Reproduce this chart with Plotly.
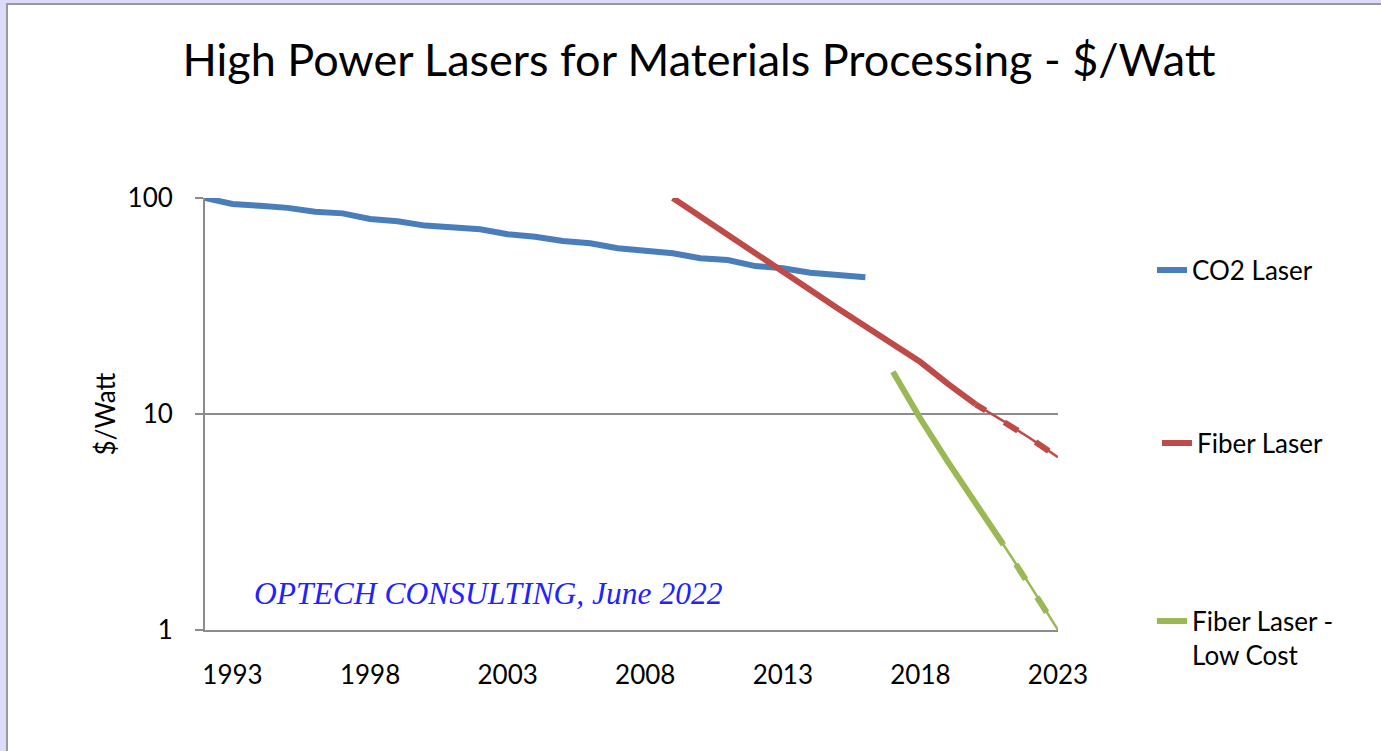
import plotly.graph_objects as go

# ---- data ----
co2_years = list(range(1992, 2017))
co2_values = [100, 93.8, 92, 90, 86.4, 84.9, 80, 78, 74.5, 73, 71.6, 67.9, 66.2,
              63.3, 61.7, 58.5, 57.4, 55.5, 52.6, 51.6, 48.4, 47.3, 45.1, 44, 43]

fiber_years = list(range(2009, 2024))
fiber_values = [100, 81.9, 67.4, 55, 45.6, 37.5, 30.8, 25.4, 21, 17.4, 13.8, 11.1, 9.3, 7.7, 6.3]
fiber_forecast_from = 2020

lowcost_years = list(range(2017, 2024))
lowcost_values = [15.7, 9.5, 6.0, 3.9, 2.5, 1.6, 1.0]
lowcost_forecast_from = 2021

x_tick_years = [1993, 1998, 2003, 2008, 2013, 2018, 2023]
y_tick_values = [1, 10, 100]
y_tick_labels = ["1", "10", "100"]

title_text = "High Power Lasers for Materials Processing - $/Watt"
y_title = "$/Watt"
note_text = "OPTECH CONSULTING, June 2022"
names = ["CO2 Laser", "Fiber Laser", "Fiber Laser -<br>Low Cost"]

# ---- style ----
BLUE = "#4A7EBB"
RED = "#BE4B48"
GREEN = "#98B954"
GRID = "#8C8C8C"
FONT = "Lato, 'Open Sans', sans-serif"

W, H = 1381, 751
ML, MR, MT, MB = 205, 323, 198, 121
PW, PH = W - ML - MR, H - MT - MB


def split(years, values, start):
    solid_x = [y for y in years if y <= start]
    solid_y = [v for y, v in zip(years, values) if y <= start]
    fc_x = [y for y in years if y >= start]
    fc_y = [v for y, v in zip(years, values) if y >= start]
    return solid_x, solid_y, fc_x, fc_y


fig = go.Figure()

# CO2
fig.add_trace(go.Scatter(x=co2_years, y=co2_values, mode="lines", name=names[0],
                         line=dict(color=BLUE, width=6), legend="legend"))

# Fiber laser
sx, sy, fx, fy = split(fiber_years, fiber_values, fiber_forecast_from)
fig.add_trace(go.Scatter(x=sx, y=sy, mode="lines", name=names[1],
                         line=dict(color=RED, width=6), legend="legend2"))
fig.add_trace(go.Scatter(x=fx, y=fy, mode="lines", showlegend=False, hoverinfo="skip",
                         line=dict(color=RED, width=2.5)))
fig.add_trace(go.Scatter(x=fx, y=fy, mode="lines", showlegend=False,
                         line=dict(color=RED, width=6, dash="12px,22px,16px,21px,16px,21px")))

# Fiber laser low cost
sx, sy, fx, fy = split(lowcost_years, lowcost_values, lowcost_forecast_from)
fig.add_trace(go.Scatter(x=sx, y=sy, mode="lines", name=names[2],
                         line=dict(color=GREEN, width=6), legend="legend3"))
fig.add_trace(go.Scatter(x=fx, y=fy, mode="lines", showlegend=False, hoverinfo="skip",
                         line=dict(color=GREEN, width=2.5)))
fig.add_trace(go.Scatter(x=fx, y=fy, mode="lines", showlegend=False,
                         line=dict(color=GREEN, width=6, dash="1px,23px,18px,21px,18px,21px")))

legend_common = dict(xref="container", yref="container", xanchor="left", yanchor="middle",
                     bgcolor="rgba(0,0,0,0)", font=dict(family=FONT, size=26, color="black"),
                     itemclick=False, itemdoubleclick=False)

fig.update_layout(
    width=W, height=H,
    margin=dict(l=ML, r=MR, t=MT, b=MB),
    paper_bgcolor="#DCDCFA",
    plot_bgcolor="white",
    font=dict(family=FONT, size=26, color="black"),
    title=dict(text=title_text, x=699 / W, xref="container", xanchor="center",
               y=1 - 60 / H, yref="container", yanchor="middle",
               font=dict(family=FONT, size=45, color="black")),
    xaxis=dict(range=[1992, 2023], tickmode="array", tickvals=x_tick_years,
               ticktext=[str(y) for y in x_tick_years], ticks="", showgrid=False,
               showline=True, linecolor=GRID, linewidth=2, zeroline=False,
               ticklabelstandoff=21, tickfont=dict(family=FONT, size=26, color="black")),
    yaxis=dict(type="log", range=[0, 2], tickmode="array", tickvals=y_tick_values,
               ticktext=y_tick_labels, showgrid=True, gridcolor=GRID, gridwidth=2,
               showline=True, linecolor=GRID, linewidth=2, ticks="outside",
               ticklen=8, tickwidth=2, tickcolor=GRID, ticklabelstandoff=17,
               zeroline=False, tickfont=dict(family=FONT, size=26, color="black"),
               title=dict(text=y_title, standoff=4, font=dict(family=FONT, size=26, color="black"))),
    legend=dict(legend_common, x=1152 / W, y=1 - 270 / H),
    legend2=dict(legend_common, x=1157 / W, y=1 - 443 / H),
    legend3=dict(legend_common, x=1152 / W, y=1 - 638 / H, valign="top"),
    shapes=[dict(type="rect", xref="paper", yref="paper", layer="below",
                 x0=(7 - ML) / PW, x1=(W + 40 - ML) / PW,
                 y0=-(H + 40 - (H - MB)) / PH, y1=(H - MB - 4) / PH,
                 fillcolor="white", line=dict(color="#999999", width=2))],
    annotations=[dict(text=note_text, xref="paper", yref="paper",
                      x=(252 - ML) / PW, y=(630 - 593) / PH, xanchor="left", yanchor="middle",
                      showarrow=False,
                      font=dict(family="'Liberation Serif', 'Times New Roman', serif",
                                size=31.5, color="#2222FF", style="italic"))],
)

fig.write_html("out.html", config={"displayModeBar": False},
               post_script="document.body.style.margin='0';")
